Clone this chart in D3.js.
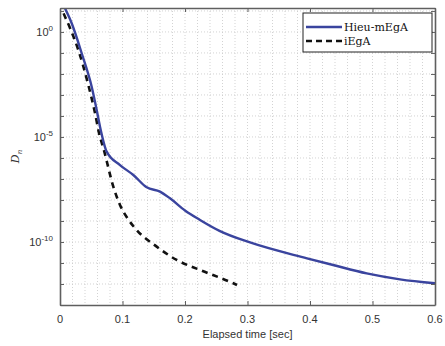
<!DOCTYPE html>
<html>
<head>
<meta charset="utf-8">
<script src="https://cdn.jsdelivr.net/npm/d3@7"></script>
<style>
  html, body { margin: 0; padding: 0; background: #fff; }
  svg { display: block; }
</style>
</head>
<body>
<svg id="chart" width="445" height="346"></svg>
<script>
// Elapsed time [sec] and residual D_n for each method
const mEgaTime = [0, 0.008, 0.0187, 0.0347, 0.0507, 0.0587, 0.064, 0.0747, 0.096, 0.1173, 0.1387, 0.16, 0.176, 0.2, 0.224, 0.256, 0.304, 0.3952, 0.437, 0.4907, 0.544, 0.6];
const mEgaValues = [47, 13.5, 2.6, 0.0968, 2.48e-3, 1.93e-4, 3.1e-5, 2.0e-6, 4.6e-7, 1.55e-7, 4.0e-8, 2.5e-8, 1.2e-8, 3.16e-9, 1.12e-9, 3.3e-10, 9.5e-11, 1.67e-11, 8.0e-12, 3.2e-12, 1.67e-12, 1.08e-12];

const iEgaTime = [0, 0.0027, 0.016, 0.0293, 0.0453, 0.056, 0.0624, 0.0704, 0.0853, 0.096, 0.1088, 0.1227, 0.1547, 0.1867, 0.224, 0.2773, 0.2832];
const iEgaValues = [24, 13.5, 1.55, 0.139, 3.0e-3, 1.39e-4, 1.55e-5, 2.28e-6, 4.3e-8, 5.8e-9, 1.24e-9, 3.7e-10, 6.0e-11, 1.39e-11, 4.65e-12, 1.08e-12, 8.95e-13];

const seriesNames = ["Hieu-mEgA", "iEgA"];
const xTicks = [0, 0.1, 0.2, 0.3, 0.4, 0.5, 0.6];
const xGridTicks = d3.range(0, 0.6001, 0.02);
const yDecadeExps = d3.range(-13, 2);
const yLabelExps = [0, -5, -10];

const svg = d3.select("#chart");
const margin = { left: 60, right: 10, top: 8, bottom: 41 };
const W = 445, H = 346;
const x0 = margin.left, x1 = W - margin.right;
const y0 = margin.top, y1 = H - margin.bottom;

const x = d3.scaleLinear().domain([0, 0.6]).range([x0, x1]);
const y = d3.scaleLog().domain([1e-13, Math.pow(10, 1.14)]).range([y1, y0]);

const frameColor = "#5f5f5f";
const labelColor = "#333";

// Plot area clip
svg.append("defs").append("clipPath").attr("id", "plotClip")
  .append("rect").attr("x", x0).attr("y", y0).attr("width", x1 - x0).attr("height", y1 - y0);

// Dotted grid
const grid = svg.append("g").attr("stroke", "#c8c8c8").attr("stroke-width", 0.8)
  .attr("stroke-dasharray", "1,2");
grid.selectAll("line.vx").data(xGridTicks.slice(1, -1)).join("line")
  .attr("x1", d => x(d)).attr("x2", d => x(d)).attr("y1", y0).attr("y2", y1);
grid.selectAll("line.hy").data(yDecadeExps.slice(1)).join("line")
  .attr("x1", x0).attr("x2", x1)
  .attr("y1", d => y(Math.pow(10, d))).attr("y2", d => y(Math.pow(10, d)));

// Curves
const line = d3.line().x(d => x(d[0])).y(d => y(d[1])).curve(d3.curveMonotoneX);
const plot = svg.append("g").attr("clip-path", "url(#plotClip)");
plot.append("path")
  .datum(d3.zip(iEgaTime, iEgaValues))
  .attr("d", line).attr("fill", "none")
  .attr("stroke", "#111").attr("stroke-width", 2.6)
  .attr("stroke-dasharray", "6,5");
plot.append("path")
  .datum(d3.zip(mEgaTime, mEgaValues))
  .attr("d", line).attr("fill", "none")
  .attr("stroke", "#3a449e").attr("stroke-width", 2.4)
  .attr("stroke-linejoin", "round");

// Axes: bottom/top and left/right with inward ticks
const xAxisB = d3.axisBottom(x).tickValues(xTicks).tickSizeInner(-4).tickSizeOuter(0).tickFormat("");
const xAxisT = d3.axisTop(x).tickValues(xTicks).tickSizeInner(-4).tickSizeOuter(0).tickFormat("");
const yTickVals = yDecadeExps.map(e => Math.pow(10, e));
const yAxisL = d3.axisLeft(y).tickValues(yTickVals).tickSizeInner(-4).tickSizeOuter(0).tickFormat("");
const yAxisR = d3.axisRight(y).tickValues(yTickVals).tickSizeInner(-4).tickSizeOuter(0).tickFormat("");

function styleAxis(g) {
  g.selectAll("path, line").attr("stroke", frameColor);
  g.select("path.domain").attr("stroke-width", 1.6);
  g.selectAll(".tick line").attr("stroke-width", 1);
}
svg.append("g").attr("transform", `translate(0,${y1})`).call(xAxisB).call(styleAxis);
svg.append("g").attr("transform", `translate(0,${y0})`).call(xAxisT).call(styleAxis);
svg.append("g").attr("transform", `translate(${x0},0)`).call(yAxisL).call(styleAxis);
svg.append("g").attr("transform", `translate(${x1},0)`).call(yAxisR).call(styleAxis);

// X tick labels
svg.append("g").selectAll("text").data(xTicks).join("text")
  .attr("x", d => x(d)).attr("y", y1 + 18)
  .attr("text-anchor", "middle")
  .attr("font-family", "Liberation Sans, Arial, sans-serif")
  .attr("font-size", 11).attr("fill", labelColor)
  .text(d => d === 0 ? "0" : d3.format(".1f")(d));

// Y tick labels as 10^n
const yl = svg.append("g").selectAll("text").data(yLabelExps).join("text")
  .attr("x", x0 - 7).attr("y", d => y(Math.pow(10, d)) + 4)
  .attr("text-anchor", "end")
  .attr("font-family", "Liberation Sans, Arial, sans-serif")
  .attr("font-size", 11).attr("fill", labelColor);
yl.append("tspan").text("10");
yl.append("tspan").attr("dy", -5).attr("font-size", 8).text(d => String(d));

// Axis titles
svg.append("text")
  .attr("x", (x0 + x1) / 2).attr("y", H - 8)
  .attr("text-anchor", "middle")
  .attr("font-family", "Liberation Sans, Arial, sans-serif")
  .attr("font-size", 11).attr("fill", labelColor)
  .text("Elapsed time [sec]");

const yTitle = svg.append("text")
  .attr("transform", `translate(19,${(y0 + y1) / 2}) rotate(-90)`)
  .attr("text-anchor", "middle")
  .attr("font-family", "DejaVu Serif, serif")
  .attr("font-style", "italic")
  .attr("font-size", 11).attr("fill", labelColor);
yTitle.append("tspan").text("D");
yTitle.append("tspan").attr("dy", 3).attr("font-size", 7).text("n");

// Legend
const legend = svg.append("g");
legend.append("rect")
  .attr("x", 303).attr("y", 13).attr("width", 129).attr("height", 39)
  .attr("fill", "#fff").attr("stroke", "#222").attr("stroke-width", 1);
const legendRows = [
  { name: seriesNames[0], color: "#3a449e", dash: null, w: 2.4 },
  { name: seriesNames[1], color: "#111", dash: "6,4", w: 2.6 }
];
legendRows.forEach((r, i) => {
  const ly = 27 + i * 14;
  legend.append("line")
    .attr("x1", 306).attr("x2", 342).attr("y1", ly).attr("y2", ly)
    .attr("stroke", r.color).attr("stroke-width", r.w)
    .attr("stroke-dasharray", r.dash);
  legend.append("text")
    .attr("x", 344).attr("y", ly + 4)
    .attr("font-family", "DejaVu Serif, serif")
    .attr("font-size", 11).attr("fill", "#111")
    .text(r.name);
});
</script>
</body>
</html>
